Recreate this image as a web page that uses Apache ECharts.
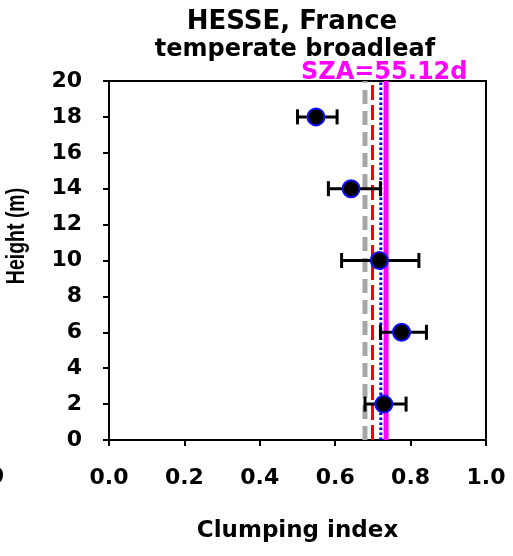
<!DOCTYPE html>
<html>
<head>
<meta charset="utf-8">
<script src="https://cdn.jsdelivr.net/npm/echarts@6/dist/echarts.min.js"></script>
<style>html,body{margin:0;padding:0;background:#fff;}#c{width:513px;height:556px;}</style>
</head>
<body>
<div id="c"></div>
<script>
var heights = [18, 14, 10, 6, 2];
var ciMean = [0.549, 0.642, 0.717, 0.776, 0.729];
var ciLow  = [0.500, 0.582, 0.617, 0.720, 0.679];
var ciHigh = [0.605, 0.720, 0.822, 0.842, 0.788];
var refGray = 0.679;
var refRed = 0.699;
var refBlue = 0.721;
var refMagenta = 0.735;
var szaLabel = 'SZA=55.12d';
var titleLines = ['HESSE, France', 'temperate broadleaf'];
var yTitle = 'Height (m)';
var xTitle = 'Clumping index';
var yRange = [0, 20];

var FONT = 'DejaVu Sans';
var chart = echarts.init(document.getElementById('c'), null, {renderer: 'canvas'});

function vline(x, color, width, type) {
  return {
    type: 'line', data: [[x, yRange[0]], [x, yRange[1]]], symbol: 'none', silent: true,
    lineStyle: {color: color, width: width, type: type}, z: 2, animation: false
  };
}

var barData = heights.map(function (h, i) { return [ciLow[i], ciHigh[i], h]; });
var ptData = heights.map(function (h, i) { return [ciMean[i], h]; });

var option = {
  animation: false,
  grid: {left: 109, top: 81, width: 377, height: 359, show: true, borderColor: '#000', borderWidth: 2},
  xAxis: {
    type: 'value', min: 0, max: 1, interval: 0.2,
    axisLine: {show: true, lineStyle: {color: '#000', width: 2}},
    axisTick: {show: true, length: 6, lineStyle: {color: '#000', width: 2}},
    splitLine: {show: false},
    axisLabel: {color: '#000', fontFamily: FONT, fontWeight: 'bold', fontSize: 22, margin: 27,
      formatter: function (v) { return v.toFixed(1); }},
    name: xTitle, nameLocation: 'middle', nameGap: 80,
    nameTextStyle: {color: '#000', fontFamily: FONT, fontWeight: 'bold', fontSize: 23}
  },
  yAxis: {
    type: 'value', min: 0, max: 20, interval: 2,
    axisLine: {show: true, lineStyle: {color: '#000', width: 2}},
    axisTick: {show: true, length: 6, lineStyle: {color: '#000', width: 2}},
    splitLine: {show: false},
    axisLabel: {color: '#000', fontFamily: FONT, fontWeight: 'bold', fontSize: 22, margin: 27}
  },
  graphic: [
    {type: 'text', x: 292, y: 9, style: {text: titleLines[0], fill: '#000', font: 'bold 26px "DejaVu Sans"', align: 'center', verticalAlign: 'top'}},
    {type: 'text', x: 295, y: 38, style: {text: titleLines[1], fill: '#000', font: 'bold 24px "DejaVu Sans"', align: 'center', verticalAlign: 'top'}},
    {type: 'text', x: 301, y: 61, z: 10, style: {text: szaLabel, fill: '#ff00ff', font: 'bold 24px "DejaVu Sans"', align: 'left', verticalAlign: 'top'}},
    {type: 'text', x: 17, y: 236, rotation: Math.PI / 2, scaleX: 0.75, scaleY: 1,
      style: {text: yTitle, fill: '#000', font: 'bold 26px "Liberation Sans"', align: 'center', verticalAlign: 'middle'}},
    {type: 'text', x: 4, y: 466, style: {text: '0', fill: '#000', font: 'bold 22px "DejaVu Sans"', align: 'right', verticalAlign: 'top'}}
  ],
  series: [
    vline(refGray, '#a6a6a6', 5, [14, 7]),
    vline(refRed, '#ff0000', 3, [15, 5]),
    vline(refBlue, '#0000ff', 3, [2.5, 2.5]),
    vline(refMagenta, '#ff00ff', 5, 'solid'),
    {
      type: 'custom', data: barData, z: 5,
      encode: {x: [0, 1], y: 2},
      renderItem: function (params, api) {
        var a = api.coord([api.value(0), api.value(2)]);
        var b = api.coord([api.value(1), api.value(2)]);
        var cap = 7.5;
        var st = {stroke: '#000', lineWidth: 3};
        return {type: 'group', children: [
          {type: 'line', shape: {x1: a[0], y1: a[1], x2: b[0], y2: b[1]}, style: st},
          {type: 'line', shape: {x1: a[0], y1: a[1] - cap, x2: a[0], y2: a[1] + cap}, style: st},
          {type: 'line', shape: {x1: b[0], y1: b[1] - cap, x2: b[0], y2: b[1] + cap}, style: st}
        ]};
      }
    },
    {
      type: 'scatter', data: ptData, symbol: 'circle', symbolSize: 17, z: 6,
      itemStyle: {color: '#000', borderColor: '#1010ff', borderWidth: 2, opacity: 1}
    }
  ]
};
chart.setOption(option);
</script>
</body>
</html>
